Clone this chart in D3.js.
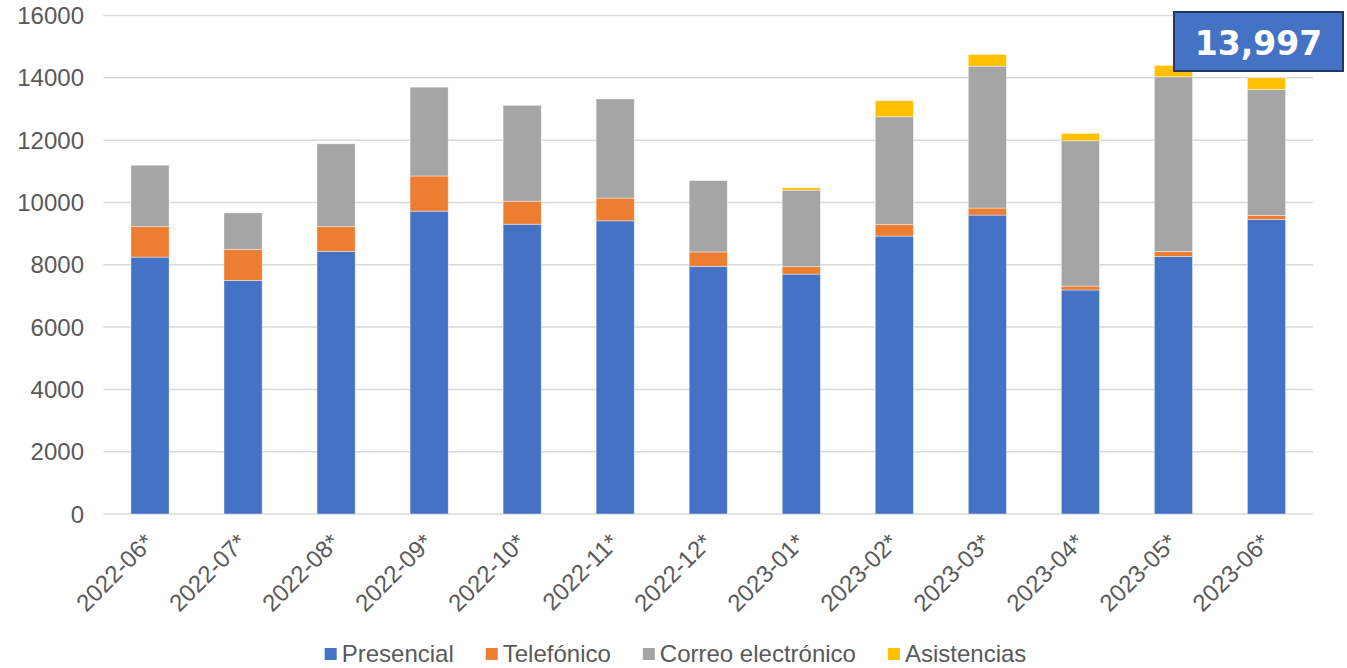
<!DOCTYPE html>
<html><head><meta charset="utf-8">
<script src="https://cdn.jsdelivr.net/npm/d3@7"></script>
<style>body{margin:0;background:#fff}svg{display:block}</style>
</head><body><svg id="c" width="1347" height="668"></svg>
<script>
const categories = ["2022-06*","2022-07*","2022-08*","2022-09*","2022-10*","2022-11*","2022-12*","2023-01*","2023-02*","2023-03*","2023-04*","2023-05*","2023-06*"];
const presencial  = [8245, 7495, 8430, 9720, 9300, 9410, 7950, 7700, 8920, 9595, 7190, 8267, 9455];
const telefonico  = [980, 1000, 796, 1130, 740, 730, 460, 245, 375, 225, 125, 160, 128];
const correo      = [1970, 1170, 2656, 2850, 3075, 3180, 2290, 2450, 3455, 4555, 4665, 5605, 4043];
const asistencias = [0, 0, 0, 0, 0, 0, 0, 75, 515, 375, 235, 365, 371];
const seriesNames = ["Presencial","Telefónico","Correo electrónico","Asistencias"];
const yTicks = [0,2000,4000,6000,8000,10000,12000,14000,16000];
const calloutText = "13,997";

const colors = ["#4472C4","#ED7D31","#A5A5A5","#FFC000"];
const svg = d3.select("#c");
const font = "'Liberation Sans', Arial, sans-serif";
const txt = "#595959";

const x = d3.scaleBand().domain(categories).range([103.5,1313]).paddingInner(0.59).paddingOuter(0.295);
const y = d3.scaleLinear().domain([0,16000]).range([514,15.5]);

// gridlines
svg.append("g").selectAll("line").data(yTicks).join("line")
  .attr("x1",103.5).attr("x2",1313)
  .attr("y1",d=>y(d)).attr("y2",d=>y(d))
  .attr("stroke","#D9D9D9").attr("stroke-width",1.5);

// y labels
svg.append("g").selectAll("text").data(yTicks).join("text")
  .attr("x",84).attr("y",d=>y(d)).attr("dy","0.36em")
  .attr("text-anchor","end").attr("font-family",font).attr("font-size",24).attr("fill",txt)
  .text(d=>d);

// stacked data
const rows = categories.map((c,i)=>({cat:c, s0:presencial[i], s1:telefonico[i], s2:correo[i], s3:asistencias[i]}));
const stack = d3.stack().keys(["s0","s1","s2","s3"])(rows);

svg.append("g").selectAll("g").data(stack).join("g")
  .attr("fill",(d,i)=>colors[i])
  .selectAll("rect").data(d=>d.filter(p=>p[1]-p[0]>0)).join("rect")
  .attr("x",d=>x(d.data.cat)).attr("width",x.bandwidth())
  .attr("y",d=>y(d[1])).attr("height",d=>y(d[0])-y(d[1]))
  .attr("stroke","#ffffff").attr("stroke-opacity",0.5).attr("stroke-width",0.8);

// x labels
svg.append("g").selectAll("text").data(categories).join("text")
  .attr("transform",d=>`translate(${x(d)+x.bandwidth()/2+5},544) rotate(-45)`)
  .attr("text-anchor","end").attr("font-family",font).attr("font-size",24).attr("fill",txt)
  .text(d=>d);

// legend
const lg = svg.append("g");
let lx = 0;
const items = [];
seriesNames.forEach((n,i)=>{
  const g = lg.append("g");
  g.append("rect").attr("x",0).attr("y",648).attr("width",12).attr("height",12).attr("fill",colors[i]);
  const t = g.append("text").attr("x",17).attr("y",662).attr("font-family",font).attr("font-size",24).attr("fill",txt).text(n);
  const w = 17 + t.node().getComputedTextLength();
  items.push({g,w});
});
const gap = 32;
const total = items.reduce((a,b)=>a+b.w,0) + gap*(items.length-1);
lx = 675.5 - total/2;
items.forEach(it=>{ it.g.attr("transform",`translate(${lx},0)`); lx += it.w + gap; });

// callout box
svg.append("rect").attr("x",1174).attr("y",12).attr("width",169).attr("height",59)
  .attr("fill","#4472C4").attr("stroke","#1F3864").attr("stroke-width",2);
svg.append("text").attr("x",1258.5).attr("y",55).attr("text-anchor","middle")
  .attr("font-family","'DejaVu Sans', Verdana, sans-serif").attr("font-weight","bold")
  .attr("font-size",33).attr("fill","#fff").text(calloutText);
</script></body></html>
